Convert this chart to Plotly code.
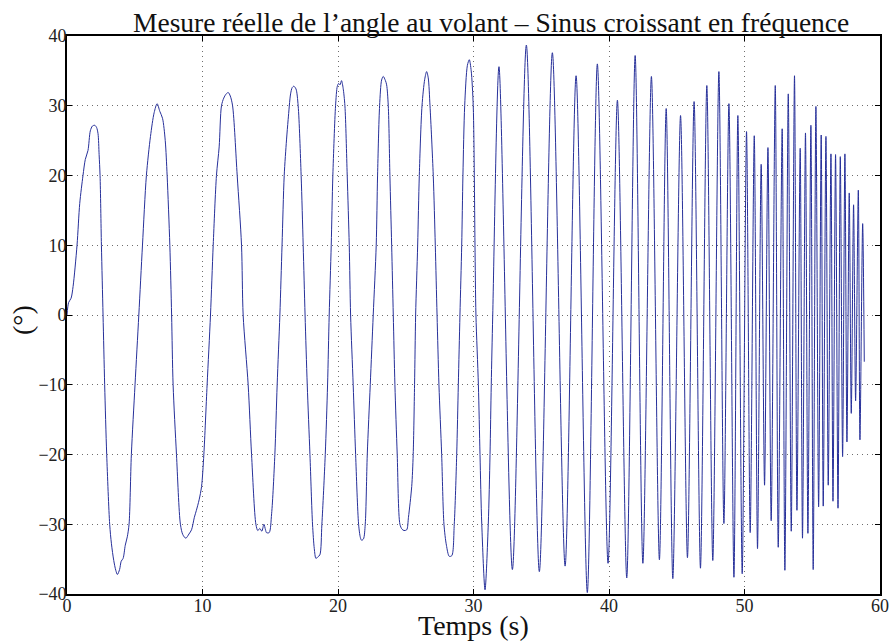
import plotly.graph_objects as go

# Time (s) and steering-wheel angle (deg)
temps = [
    0.00, 0.12, 0.30, 0.45, 0.74, 0.94, 1.18, 1.35, 1.55, 1.72, 1.88, 2.05, 2.18, 2.29, 2.37, 2.44,
    2.54, 2.66, 2.78, 2.93, 3.15, 3.28, 3.45, 3.60, 3.72, 3.88, 4.00, 4.14, 4.30, 4.45, 4.58, 4.75,
    5.02, 5.30, 5.57, 5.86, 6.16, 6.43, 6.65, 6.85, 7.05, 7.25, 7.39, 7.59, 7.72, 7.83, 8.08, 8.37,
    8.55, 8.77, 9.00, 9.19, 9.40, 9.55, 9.75, 9.93, 10.10, 10.34, 10.59, 10.79, 11.03, 11.23, 11.40,
    11.57, 11.75, 11.90, 12.05, 12.22, 12.56, 12.88, 13.00, 13.37, 13.62, 13.94, 14.08, 14.23, 14.38,
    14.53, 14.65, 14.72, 14.92, 15.10, 15.34, 15.51, 15.71, 15.87, 16.03, 16.20, 16.32, 16.50, 16.62,
    16.74, 16.90, 17.06, 17.28, 17.43, 17.57, 17.73, 17.93, 18.12, 18.25, 18.37, 18.50, 18.66, 18.81,
    19.06, 19.23, 19.35, 19.50, 19.62, 19.82, 19.95, 20.05, 20.15, 20.26, 20.38, 20.51, 20.68, 20.83,
    20.93, 21.12, 21.30, 21.52, 21.65, 21.74, 21.88, 22.01, 22.16, 22.38, 22.60, 22.82, 22.92, 23.07,
    23.22, 23.34, 23.50, 23.59, 23.71, 23.83, 23.96, 24.08, 24.20, 24.37, 24.57, 24.72, 24.87, 25.07,
    25.20, 25.44, 25.55, 25.65, 25.73, 25.88, 26.00, 26.20, 26.40, 26.54, 26.66, 26.79, 27.03, 27.18,
    27.31, 27.45, 27.65, 27.82, 28.00, 28.21, 28.40, 28.58, 28.76, 28.88, 29.00, 29.13, 29.22, 29.35,
    29.55, 29.69, 29.83, 29.98, 30.06, 30.11, 30.18, 30.36, 30.48, 30.61, 30.85, 31.09, 31.22, 31.31,
    31.42, 31.88, 32.87, 33.90, 34.86, 35.82, 36.76, 37.57, 38.40, 39.14, 39.93, 40.62, 41.31, 41.93,
    42.50, 43.13, 43.72, 44.22, 44.71, 45.28, 45.79, 46.28, 46.75, 47.22, 47.66, 48.11, 48.48, 48.85,
    49.22, 49.51, 49.83, 50.15, 50.42, 50.72, 50.96, 51.23, 51.48, 51.73, 51.97, 52.27, 52.49, 52.78,
    52.98, 53.23, 53.45, 53.69, 53.87, 54.11, 54.28, 54.50, 54.68, 54.90, 55.07, 55.27, 55.47, 55.66,
    55.81, 56.01, 56.18, 56.38, 56.53, 56.72, 56.90, 57.07, 57.24, 57.41, 57.56, 57.73, 57.88, 58.05,
    58.20, 58.40, 58.52, 58.72, 58.84,
]
angle = [
    0.0, 1.8, 2.4, 4.1, 10.0, 16.0, 20.0, 22.3, 23.6, 26.4, 27.1, 27.2, 26.9, 26.0, 23.0, 20.0,
    10.0, 0.0, -10.0, -20.0, -30.0, -32.8, -35.2, -36.6, -37.2, -36.5, -35.3, -34.9, -33.0, -31.8, -30.0, -20.0,
    -10.0, 0.0, 10.0, 20.0, 25.6, 29.0, 30.3, 29.2, 28.2, 25.0, 20.0, 10.0, 0.0, -10.0, -20.0, -30.0,
    -31.5, -32.0, -31.4, -30.8, -29.0, -28.0, -26.5, -24.6, -20.0, -10.0, 0.0, 10.0, 20.0, 24.1, 30.0,
    31.1, 31.7, 31.9, 31.4, 30.0, 20.0, 10.0, 0.0, -10.0, -20.0, -30.0, -30.9, -30.6, -31.0,
    -30.0, -30.8, -31.2, -31.2, -28.5, -20.0, -10.0, 0.0, 10.0, 20.0, 25.1, 28.0, 31.7, 32.6,
    32.8, 32.4, 30.0, 20.0, 10.0, 0.0, -10.0, -20.0, -30.0, -33.5, -34.9, -34.7, -34.4, -30.0,
    -20.0, -10.0, 0.0, 10.0, 20.0, 30.0, 32.8, 33.2, 33.0, 33.6, 32.5, 30.0, 20.0, 10.0,
    0.0, -10.0, -20.0, -30.0, -31.9, -32.3, -32.1, -30.0, -20.0, -10.0, 0.0, 10.0, 20.0, 30.0,
    33.7, 34.2, 33.6, 33.0, 30.0, 20.0, 10.0, 0.0, -10.0, -20.0, -30.0, -30.7, -30.9, -30.8,
    -29.0, -24.6, -20.0, -10.0, 0.0, 10.0, 20.0, 30.0, 33.8, 34.9, 34.0, 30.0, 20.0, 10.0,
    0.0, -10.0, -20.0, -30.0, -33.0, -34.6, -34.5, -30.0, -20.0, -10.0, 0.0, 10.0, 20.0, 30.0,
    35.8, 36.6, 35.0, 30.0, 20.0, 10.0, 0.0, -10.0, -20.0, -30.0, -39.4, -30.0, -20.0, -10.0,
    0.0, 35.6, -36.5, 38.7, -36.8, 37.6, -36.0, 34.3, -39.8, 36.0, -35.6, 30.8, -37.7, 37.2,
    -35.6, 34.2, -35.1, 29.6, -37.8, 28.6, -34.8, 30.6, -36.3, 32.9, -35.2, 34.9, -29.9, 30.3,
    -37.6, 28.6, -37.1, 26.3, -31.2, 25.7, -33.5, 21.6, -24.4, 24.0, -29.5, 32.9, -33.3, 26.7,
    -36.6, 31.7, -31.0, 34.3, -28.0, 23.9, -32.0, 26.1, -31.3, 27.2, -36.5, 29.9, -27.5, 25.8,
    -27.4, 25.6, -24.4, 23.1, -26.7, 23.0, -27.7, 22.7, -20.3, 23.1, -18.2, 17.5, -14.1, 15.8,
    -12.3, 17.9, -17.9, 13.1, -6.7,
]

x_ticks = [0, 10, 20, 30, 40, 50, 60]
y_ticks = [-40, -30, -20, -10, 0, 10, 20, 30, 40]

titre = "Mesure réelle de l’angle au volant – Sinus croissant en fréquence"
titre_x = "Temps (s)"
titre_y = "(°)"

FONT = "Liberation Serif"

fig = go.Figure()
fig.add_trace(go.Scatter(
    x=temps, y=angle, mode="lines",
    line=dict(color="#27309a", width=1, shape="spline", smoothing=0.8),
    showlegend=False, hoverinfo="skip",
))

axis_common = dict(
    showline=True, linecolor="black", linewidth=1.6, mirror="ticks",
    ticks="inside", ticklen=5, tickwidth=1, tickcolor="black",
    showgrid=True, gridcolor="#6e6e6e", gridwidth=1, griddash="1px,4px",
    zeroline=False, automargin=False,
    tickfont=dict(family=FONT, size=18, color="#222"),
)

fig.update_xaxes(range=[0, 60], tickvals=x_ticks, ticktext=[str(v) for v in x_ticks],
                 ticklabelstandoff=-5, **axis_common)
fig.update_yaxes(range=[-40, 40], tickvals=y_ticks,
                 ticktext=[("\u2212" + str(-v)) if v < 0 else str(v) for v in y_ticks],
                 ticklabelstandoff=-5, **axis_common)

L, R, T, B = 67, 12, 36, 47
W, H = 892, 641
pw, ph = W - L - R, H - T - B

def px2paper_x(px):
    return (px - L) / pw

def px2paper_y(py):
    return (H - B - py) / ph

fig.add_annotation(text=titre, x=px2paper_x(491), y=px2paper_y(22), xref="paper", yref="paper",
                   xanchor="center", yanchor="middle", showarrow=False,
                   font=dict(family=FONT, size=27.5, color="#111"))
fig.add_annotation(text=titre_x, x=px2paper_x(473), y=px2paper_y(625), xref="paper", yref="paper",
                   xanchor="center", yanchor="middle", showarrow=False,
                   font=dict(family=FONT, size=28, color="#111"))
fig.add_annotation(text=titre_y, x=px2paper_x(23), y=px2paper_y(320), xref="paper", yref="paper",
                   xanchor="center", yanchor="middle", showarrow=False, textangle=-90,
                   font=dict(family=FONT, size=28, color="#111"))

fig.update_layout(
    width=W, height=H, autosize=False,
    margin=dict(l=L, r=R, t=T, b=B, pad=0),
    plot_bgcolor="white", paper_bgcolor="white",
)

fig.write_html("out.html")
